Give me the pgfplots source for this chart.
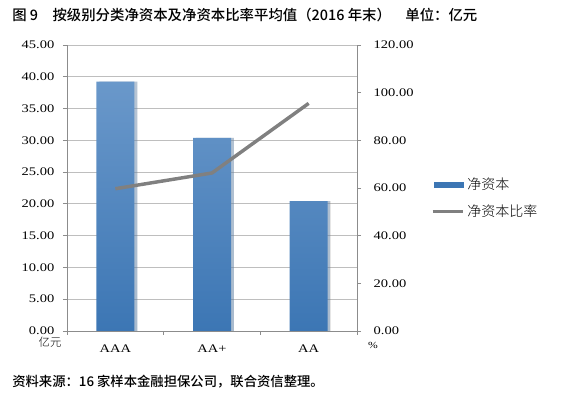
\documentclass[border=0pt]{standalone}
\usepackage{fontspec}
\usepackage{pgfplots}
\pgfplotsset{compat=1.18}
\usetikzlibrary{shadows}
\setmainfont{Liberation Serif}
\newfontfamily\tickfont[FakeStretch=1.25]{Liberation Serif}
\newfontfamily\cjkh{Noto Sans CJK SC Medium}
\newfontfamily\cjkl{Noto Sans CJK SC Light}
\definecolor{bartop}{HTML}{6A98CA}
\definecolor{barbot}{HTML}{3C76B4}
\definecolor{linegray}{HTML}{808080}
\definecolor{axgray}{HTML}{8C8C8C}
\definecolor{gridgray}{HTML}{BEBEBE}
\begin{document}
\begin{tikzpicture}
\path (0,0) rectangle (430.5pt,296.25pt);
\node[anchor=west, inner sep=0pt] at (9pt,285pt) {\cjkh\fontsize{10.8pt}{12pt}\selectfont 图 9\quad 按级别分类净资本及净资本比率平均值（2016 年末）\quad 单位：亿元};
\node[anchor=west, inner sep=0pt] at (9pt,9.75pt) {\cjkh\fontsize{10pt}{12pt}\selectfont 资料来源：16 家样本金融担保公司，联合资信整理。};
\begin{axis}[
  at={(50.25pt,48pt)}, anchor=south west,
  scale only axis, width=217.5pt, height=214.5pt,
  xmin=-0.5, xmax=2.5, ymin=0, ymax=45,
  axis x line*=bottom, axis y line*=left,
  axis line style={axgray, line width=0.6pt},
  tick style={axgray, line width=0.6pt},
  tick align=outside, major tick length=3pt,
  ytick={0,5,...,45},
  ymajorgrids, grid style={gridgray, line width=0.6pt},
  xtick={-0.5,0.5,1.5,2.5}, xticklabels={},
  extra x ticks={0,1,2}, extra x tick labels={AAA,AA+,AA},
  extra x tick style={tick style={draw=none}},
  /pgf/number format/assume math mode=true,
  /pgf/number format/.cd, fixed, fixed zerofill, precision=2, /pgfplots/.cd,
  tick label style={font=\tickfont\fontsize{8.7pt}{9pt}\selectfont, text=black},
  xticklabel style={yshift=-4pt},
  yticklabel style={xshift=-3pt},
]
\addplot[ybar, bar width=28.5pt, draw=none, top color=bartop, bottom color=barbot,
  drop shadow={shadow xshift=2.2pt, shadow yshift=0pt, opacity=0.3, fill=gray}]
  coordinates {(0,39.25) (1,30.4) (2,20.45)};
\end{axis}
\begin{axis}[
  at={(50.25pt,48pt)}, anchor=south west,
  scale only axis, width=217.5pt, height=214.5pt,
  xmin=-0.5, xmax=2.5, ymin=0, ymax=120,
  axis x line=none, axis y line*=right,
  axis line style={axgray, line width=0.6pt},
  tick style={axgray, line width=0.6pt},
  tick align=outside, major tick length=3pt,
  ytick={0,20,...,120},
  /pgf/number format/assume math mode=true,
  /pgf/number format/.cd, fixed, fixed zerofill, precision=2, /pgfplots/.cd,
  tick label style={font=\tickfont\fontsize{8.7pt}{9pt}\selectfont, text=black},
  yticklabel style={xshift=6pt},
  legend style={at={(1.255,0.465)}, anchor=west, draw=none, fill=none,
    font=\cjkl\fontsize{10.5pt}{12pt}\selectfont, row sep=6pt,
    inner sep=0pt, outer sep=0pt},
  legend cell align=left,
]
\addlegendimage{legend image code/.code={\fill[barbot] (0pt,-1.9pt) rectangle (21.75pt,1.9pt);}}
\addlegendentry{净资本}
\addplot[linegray, line width=2.6pt, legend image code/.code={\draw[linegray, line width=2.6pt] (-1pt,0pt) -- (21.75pt,0pt);}]
  coordinates {(0,59.7) (1,66.3) (2,95.5)};
\addlegendentry{净资本比率}
\end{axis}
\node[inner sep=0pt] at (37.5pt,39.75pt) {\cjkl\fontsize{8.5pt}{9pt}\selectfont 亿元};
\node[inner sep=0pt] at (279.75pt,37.5pt) {\tickfont\fontsize{7pt}{8pt}\selectfont \%};
\end{tikzpicture}
\end{document}
